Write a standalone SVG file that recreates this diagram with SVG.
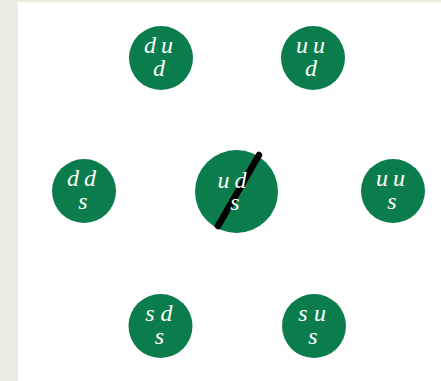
<svg xmlns="http://www.w3.org/2000/svg" width="441" height="381" viewBox="0 0 441 381">
<style>
.n{fill:#0b7d4c}
.t{fill:#ffffff;font-family:"Liberation Serif","DejaVu Serif",serif;font-style:italic;font-size:24px;text-anchor:middle}
.c{font-size:24px}
</style>
<rect x="0" y="0" width="441" height="381" fill="#ecebe1"/>
<rect x="18" y="2" width="423" height="379" fill="#ffffff"/>
<g id="node-dud"><circle class="n" cx="161" cy="58" r="32"/><text class="t" x="150" y="53">d</text><text class="t" x="167" y="53">u</text><text class="t" x="159" y="76">d</text></g>
<g id="node-uud"><circle class="n" cx="313" cy="58" r="32"/><text class="t" x="302" y="53">u</text><text class="t" x="319" y="53">u</text><text class="t" x="311" y="76">d</text></g>
<g id="node-dds"><circle class="n" cx="84" cy="191" r="32"/><text class="t" x="73" y="186">d</text><text class="t" x="90" y="186">d</text><text class="t" x="83" y="209">s</text></g>
<g id="node-uds"><circle class="n" cx="236.5" cy="191.5" r="41.5"/>
<g id="connectors"><line x1="259" y1="155" x2="218" y2="226" stroke="#000" stroke-width="6.5" stroke-linecap="round"/></g>
<text class="t c" x="223.5" y="188">u</text><text class="t c" x="240.5" y="188">d</text><text class="t c" x="235" y="210">s</text></g>
<g id="node-uus"><circle class="n" cx="393" cy="191" r="32"/><text class="t" x="382" y="186">u</text><text class="t" x="399" y="186">u</text><text class="t" x="392" y="209">s</text></g>
<g id="node-sds"><circle class="n" cx="160.5" cy="326" r="32"/><text class="t" x="150" y="321">s</text><text class="t" x="166.5" y="321">d</text><text class="t" x="159.5" y="344">s</text></g>
<g id="node-sus"><circle class="n" cx="314" cy="326" r="32"/><text class="t" x="303" y="321">s</text><text class="t" x="320" y="321">u</text><text class="t" x="313" y="344">s</text></g>
</svg>
